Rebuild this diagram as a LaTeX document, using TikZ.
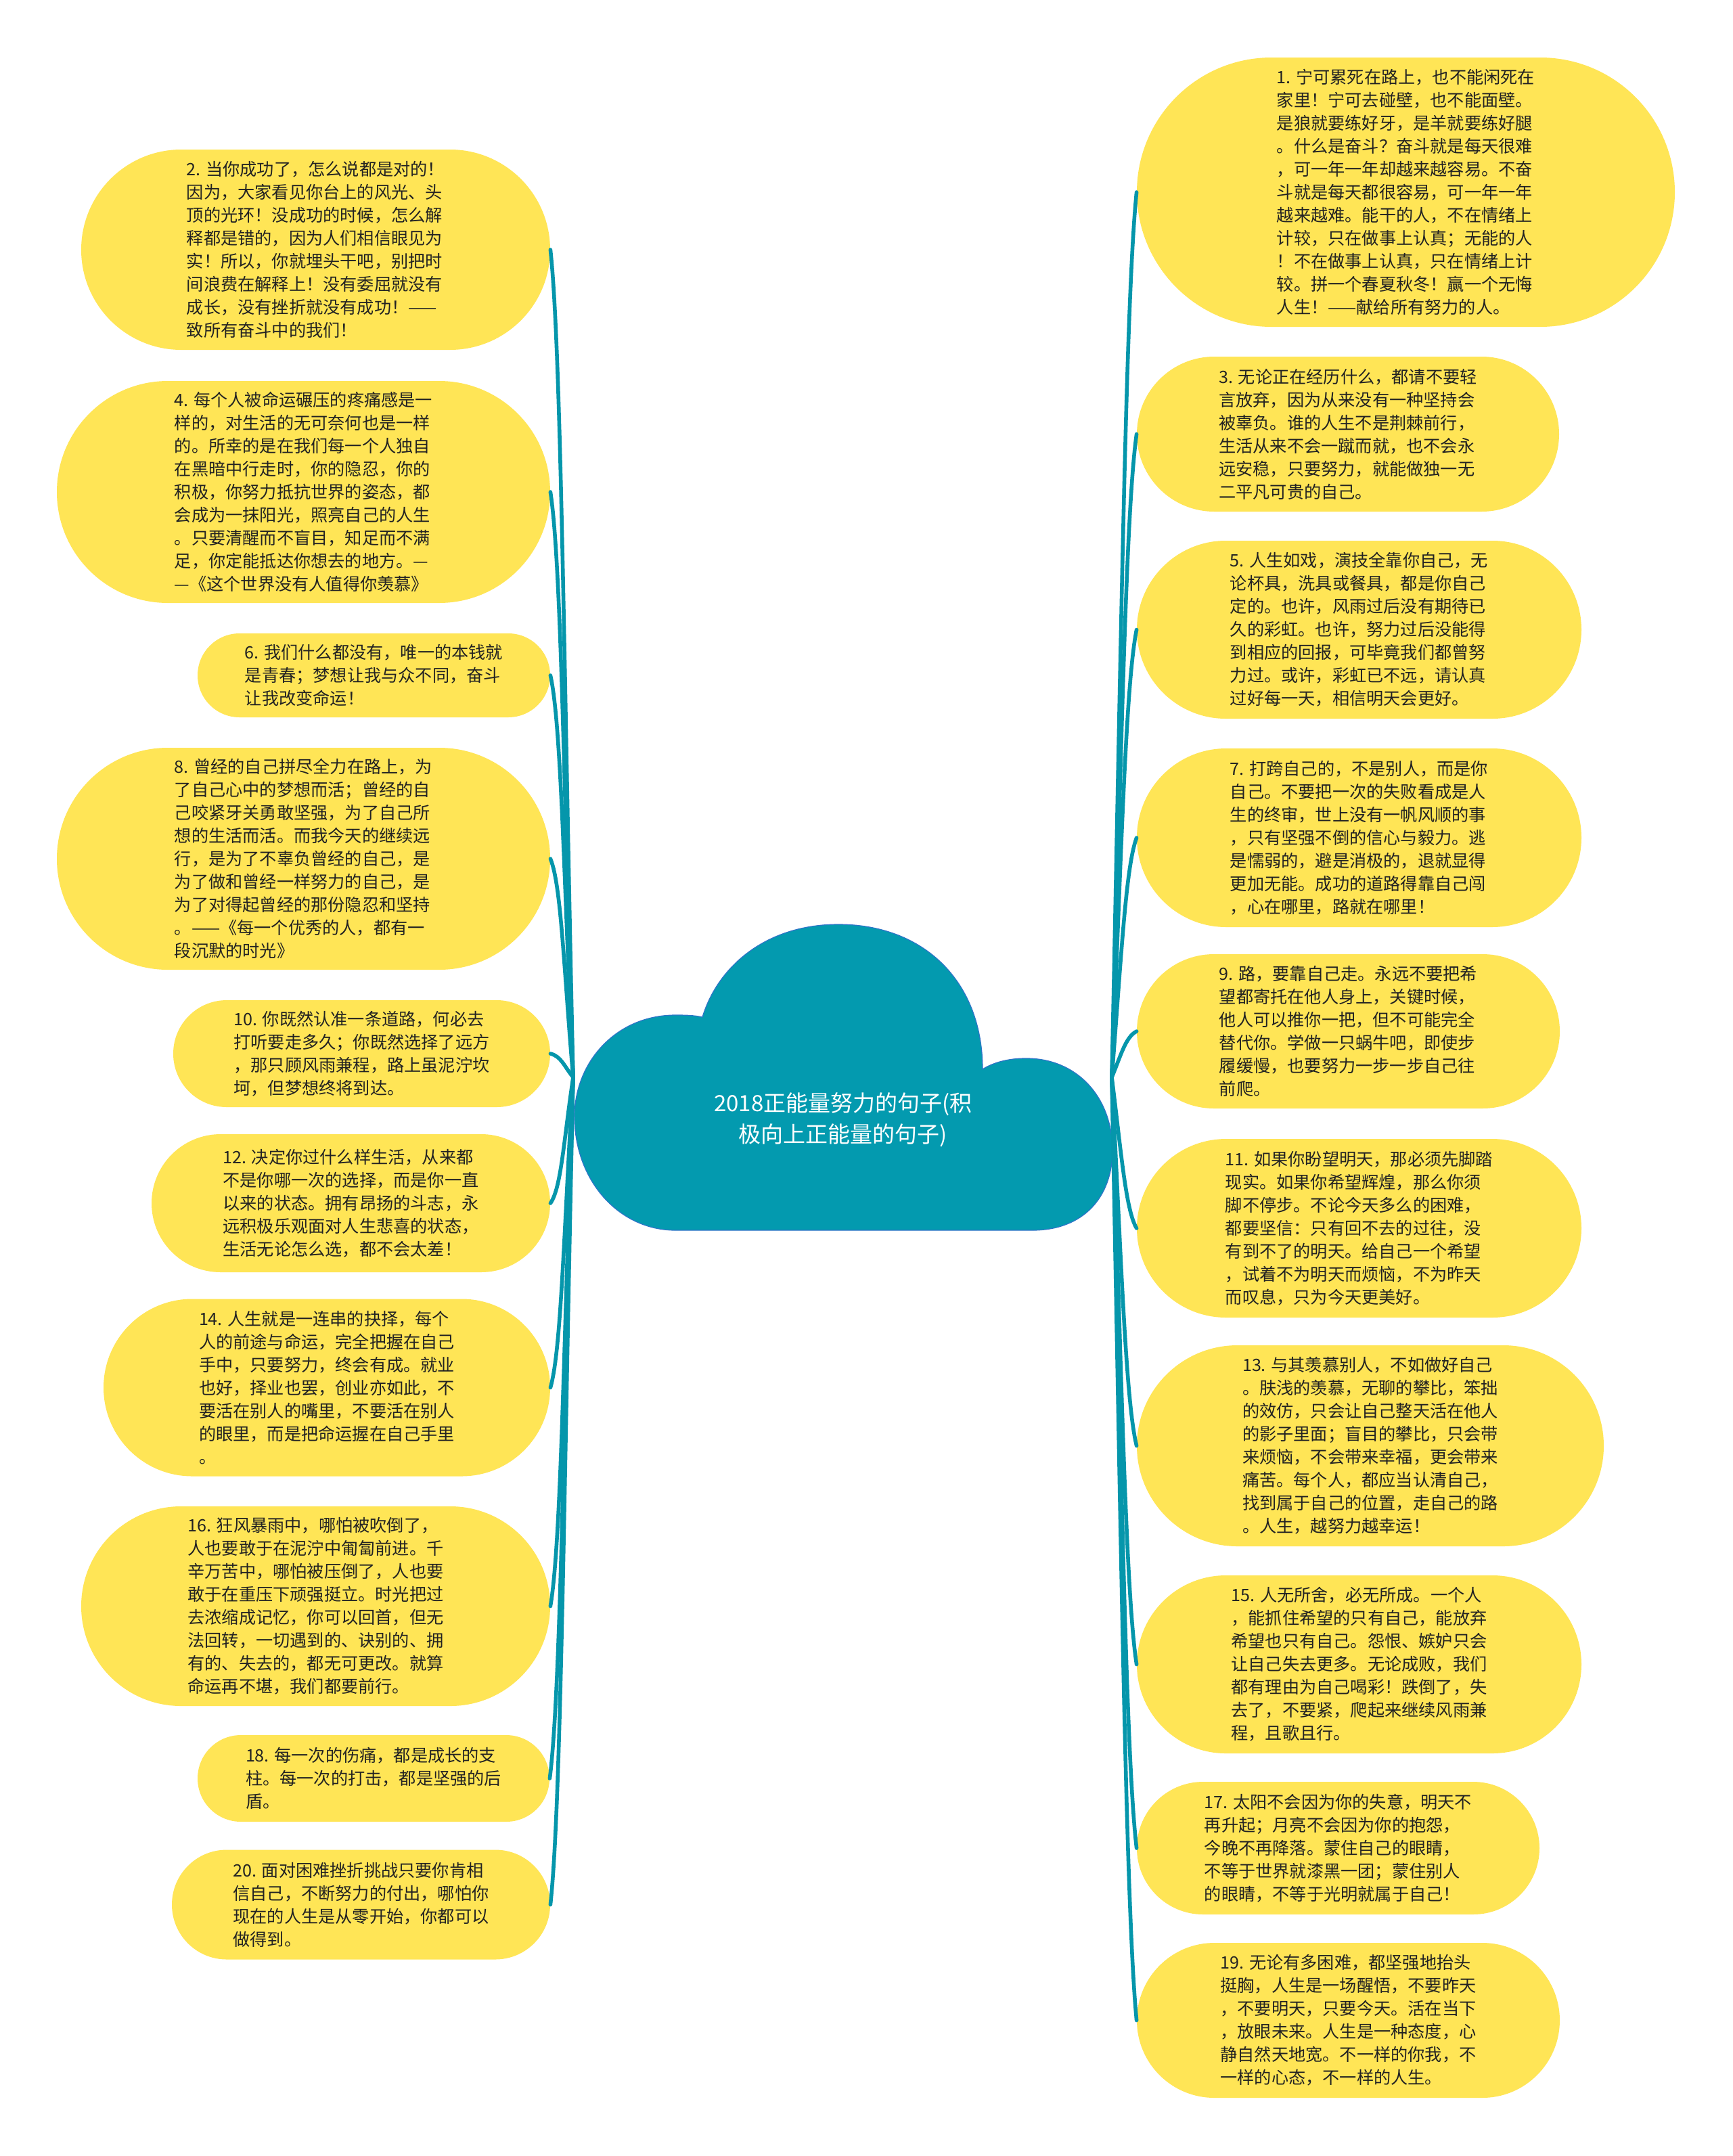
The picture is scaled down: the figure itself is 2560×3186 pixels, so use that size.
\documentclass[tikz,border=0pt]{standalone}
\usepackage{fontspec}
\newfontfamily\cjk{Noto Sans CJK SC}
\usetikzlibrary{shapes.misc,calc}
\definecolor{bubblefill}{HTML}{FFE556}
\definecolor{linkcol}{HTML}{0596AB}
\definecolor{cloudfill}{HTML}{039AAF}
\definecolor{cloudedge}{HTML}{2F74C8}
\definecolor{txt}{HTML}{222222}
\begin{document}
\begin{tikzpicture}[x=0.5pt,y=-0.5pt,
  bub/.style 2 args={rounded rectangle, fill=bubblefill, inner sep=0pt,
    minimum width=#1*0.5pt, minimum height=#2*0.5pt, align=left, text=txt,
    font=\cjk\fontsize{12.6pt}{17pt}\selectfont},
  link/.style={draw=linkcol, line width=2.8pt, line cap=round}]
\useasboundingbox (0,0) rectangle (2560,3186);
\fill[white] (0,0) rectangle (2560,3186);

% central cloud
\filldraw[fill=cloudfill, draw=cloudedge, line width=0.6pt]
  (998,1818) -- (1526,1818)
  .. controls (1600,1818) and (1644,1770) .. (1644,1700)
  .. controls (1644,1620) and (1590,1563) .. (1515,1564)
  .. controls (1490,1564) and (1468,1570) .. (1452,1580)
  .. controls (1452,1450) and (1365,1366) .. (1239,1366)
  .. controls (1130,1366) and (1060,1430) .. (1038,1503)
  .. controls (1025,1500) and (1010,1500) .. (998,1500)
  .. controls (910,1500) and (849,1570) .. (849,1650)
  .. controls (849,1745) and (915,1818) .. (998,1818) -- cycle;
\node[text=white, align=center, font=\cjk\fontsize{16.5pt}{23pt}\selectfont] (title) at (1246,1655)
  {2018正能量努力的句子(积\\极向上正能量的句子)};
\coordinate (lc) at (847,1592);
\coordinate (rc) at (1643,1592);

% left column
\node[bub={693}{296}] (n2) at (466.5,369) {2. 当你成功了，怎么说都是对的！\\因为，大家看见你台上的风光、头\\顶的光环！没成功的时候，怎么解\\释都是错的，因为人们相信眼见为\\实！所以，你就埋头干吧，别把时\\间浪费在解释上！没有委屈就没有\\成长，没有挫折就没有成功！——\\致所有奋斗中的我们！};
\node[bub={729}{328}] (n4) at (448.5,727) {4. 每个人被命运碾压的疼痛感是一\\样的，对生活的无可奈何也是一样\\的。所幸的是在我们每一个人独自\\在黑暗中行走时，你的隐忍，你的\\积极，你努力抵抗世界的姿态，都\\会成为一抹阳光，照亮自己的人生\\。只要清醒而不盲目，知足而不满\\足，你定能抵达你想去的地方。—\\—《这个世界没有人值得你羡慕》};
\node[bub={521}{124}] (n6) at (552.5,998) {6. 我们什么都没有，唯一的本钱就\\是青春；梦想让我与众不同，奋斗\\让我改变命运！};
\node[bub={729}{328}] (n8) at (448.5,1269) {8. 曾经的自己拼尽全力在路上，为\\了自己心中的梦想而活；曾经的自\\己咬紧牙关勇敢坚强，为了自己所\\想的生活而活。而我今天的继续远\\行，是为了不辜负曾经的自己，是\\为了做和曾经一样努力的自己，是\\为了对得起曾经的那份隐忍和坚持\\。——《每一个优秀的人，都有一\\段沉默的时光》};
\node[bub={557}{158}] (n10) at (534.5,1557) {10. 你既然认准一条道路，何必去\\打听要走多久；你既然选择了远方\\，那只顾风雨兼程，路上虽泥泞坎\\坷，但梦想终将到达。};
\node[bub={589}{204}] (n12) at (518.5,1778) {12. 决定你过什么样生活，从来都\\不是你哪一次的选择，而是你一直\\以来的状态。拥有昂扬的斗志，永\\远积极乐观面对人生悲喜的状态，\\生活无论怎么选，都不会太差！};
\node[bub={660}{262}] (n14) at (483,2050.5) {14. 人生就是一连串的抉择，每个\\人的前途与命运，完全把握在自己\\手中，只要努力，终会有成。就业\\也好，择业也罢，创业亦如此，不\\要活在别人的嘴里，不要活在别人\\的眼里，而是把命运握在自己手里\\。};
\node[bub={693}{295}] (n16) at (466.5,2373.5) {16. 狂风暴雨中，哪怕被吹倒了，\\人也要敢于在泥泞中匍匐前进。千\\辛万苦中，哪怕被压倒了，人也要\\敢于在重压下顽强挺立。时光把过\\去浓缩成记忆，你可以回首，但无\\法回转，一切遇到的、诀别的、拥\\有的、失去的，都无可更改。就算\\命运再不堪，我们都要前行。};
\node[bub={520}{128}] (n18) at (552,2628) {18. 每一次的伤痛，都是成长的支\\柱。每一次的打击，都是坚强的后\\盾。};
\node[bub={559}{162}] (n20) at (533.5,2814.5) {20. 面对困难挫折挑战只要你肯相\\信自己，不断努力的付出，哪怕你\\现在的人生是从零开始，你都可以\\做得到。};

% right column
\node[bub={795}{398}] (n1) at (2077.5,284) {1. 宁可累死在路上，也不能闲死在\\家里！宁可去碰壁，也不能面壁。\\是狼就要练好牙，是羊就要练好腿\\。什么是奋斗？奋斗就是每天很难\\，可一年一年却越来越容易。不奋\\斗就是每天都很容易，可一年一年\\越来越难。能干的人，不在情绪上\\计较，只在做事上认真；无能的人\\！不在做事上认真，只在情绪上计\\较。拼一个春夏秋冬！赢一个无悔\\人生！——献给所有努力的人。};
\node[bub={624}{229}] (n3) at (1992,641.5) {3. 无论正在经历什么，都请不要轻\\言放弃，因为从来没有一种坚持会\\被辜负。谁的人生不是荆棘前行，\\生活从来不会一蹴而就，也不会永\\远安稳，只要努力，就能做独一无\\二平凡可贵的自己。};
\node[bub={657}{263}] (n5) at (2008.5,930.5) {5. 人生如戏，演技全靠你自己，无\\论杯具，洗具或餐具，都是你自己\\定的。也许，风雨过后没有期待已\\久的彩虹。也许，努力过后没能得\\到相应的回报，可毕竟我们都曾努\\力过。或许，彩虹已不远，请认真\\过好每一天，相信明天会更好。};
\node[bub={657}{264}] (n7) at (2008.5,1238) {7. 打跨自己的，不是别人，而是你\\自己。不要把一次的失败看成是人\\生的终审，世上没有一帆风顺的事\\，只有坚强不倒的信心与毅力。逃\\是懦弱的，避是消极的，退就显得\\更加无能。成功的道路得靠自己闯\\，心在哪里，路就在哪里！};
\node[bub={625}{228}] (n9) at (1992.5,1524) {9. 路，要靠自己走。永远不要把希\\望都寄托在他人身上，关键时候，\\他人可以推你一把，但不可能完全\\替代你。学做一只蜗牛吧，即使步\\履缓慢，也要努力一步一步自己往\\前爬。};
\node[bub={657}{264}] (n11) at (2008.5,1815) {11. 如果你盼望明天，那必须先脚踏\\现实。如果你希望辉煌，那么你须\\脚不停步。不论今天多么的困难，\\都要坚信：只有回不去的过往，没\\有到不了的明天。给自己一个希望\\，试着不为明天而烦恼，不为昨天\\而叹息，只为今天更美好。};
\node[bub={690}{297}] (n13) at (2025,2136.5) {13. 与其羡慕别人，不如做好自己\\。肤浅的羡慕，无聊的攀比，笨拙\\的效仿，只会让自己整天活在他人\\的影子里面；盲目的攀比，只会带\\来烦恼，不会带来幸福，更会带来\\痛苦。每个人，都应当认清自己，\\找到属于自己的位置，走自己的路\\。人生，越努力越幸运！};
\node[bub={657}{263}] (n15) at (2008.5,2459.5) {15. 人无所舍，必无所成。一个人\\，能抓住希望的只有自己，能放弃\\希望也只有自己。怨恨、嫉妒只会\\让自己失去更多。无论成败，我们\\都有理由为自己喝彩！跌倒了，失\\去了，不要紧，爬起来继续风雨兼\\程，且歌且行。};
\node[bub={595}{196}] (n17) at (1977.5,2731) {17. 太阳不会因为你的失意，明天不\\再升起；月亮不会因为你的抱怨，\\今晚不再降落。蒙住自己的眼睛，\\不等于世界就漆黑一团；蒙住别人\\的眼睛，不等于光明就属于自己！};
\node[bub={625}{229}] (n19) at (1992.5,2985.5) {19. 无论有多困难，都坚强地抬头\\挺胸，人生是一场醒悟，不要昨天\\，不要明天，只要今天。活在当下\\，放眼未来。人生是一种态度，心\\静自然天地宽。不一样的你我，不\\一样的心态，不一样的人生。};

% connectors
\foreach \nd in {n2,n4,n6,n8,n10,n12,n14,n16,n18,n20}
  \draw[link] let \p1=(\nd.east), \p2=(lc) in
    (\p1) .. controls ({\x1+8pt},{\y1+0.12*(\y2-\y1)}) and ({\x2-7pt},{\y2-0.5*(\y2-\y1)}) .. (\p2);
\foreach \nd in {n1,n3,n5,n7,n9,n11,n13,n15,n17,n19}
  \draw[link] let \p1=(rc), \p2=(\nd.west) in
    (\p1) .. controls ({\x1+7pt},{\y1+0.5*(\y2-\y1)}) and ({\x2-8pt},{\y2-0.12*(\y2-\y1)}) .. (\p2);
\end{tikzpicture}
\end{document}
